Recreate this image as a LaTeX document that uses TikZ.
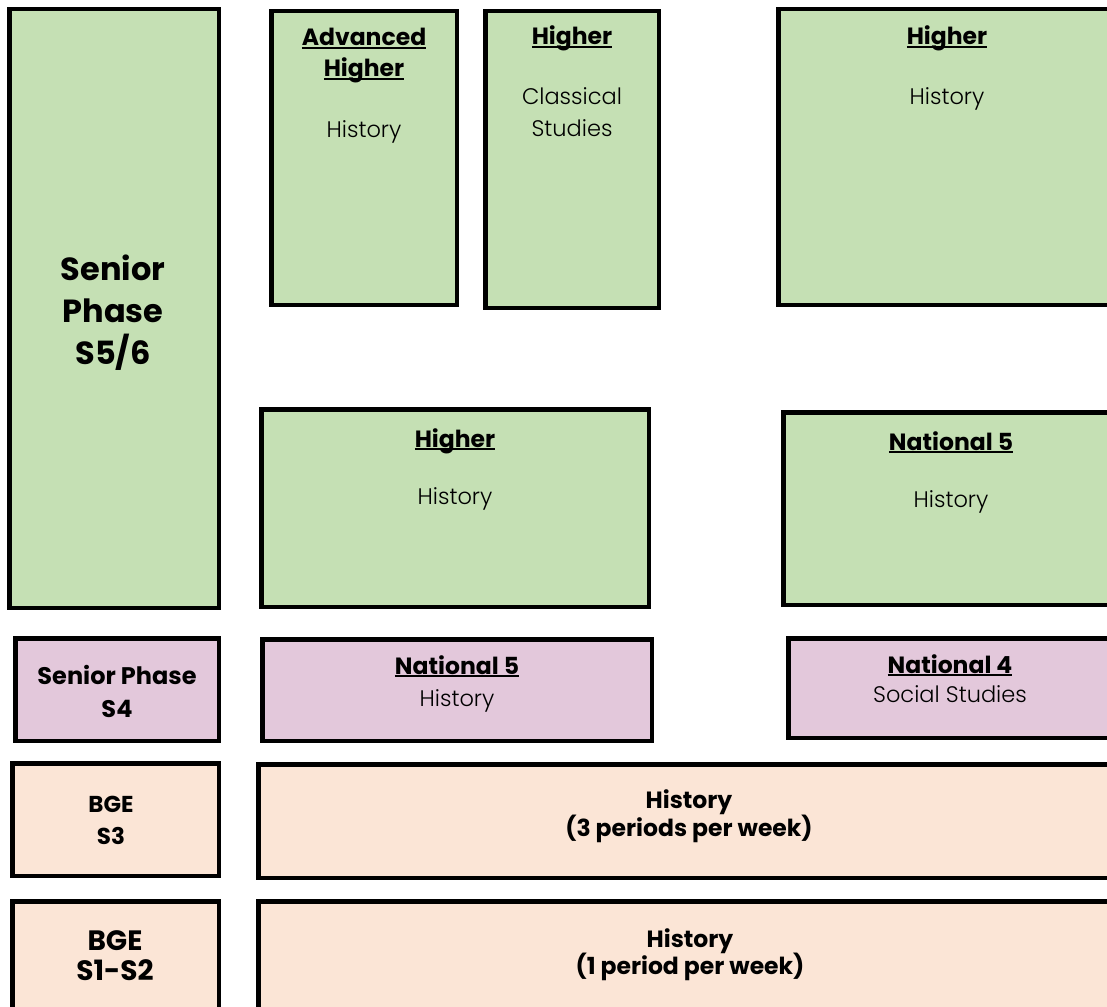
\documentclass[tikz,border=0pt]{standalone}
\usepackage{fontspec}
\setmainfont{Poppins}
\newfontfamily\lightfont{Poppins Light}
\definecolor{phasegreen}{HTML}{C5E0B4}
\definecolor{phasepurple}{HTML}{E3C8DB}
\definecolor{phasepeach}{HTML}{FBE5D6}
\newcommand\ulhead[1]{\setbox0\hbox{#1}\rlap{\rule[-3pt]{\wd0}{1.8pt}}\box0}
\tikzset{
    panel/.style = {
        draw = black,
        line width = 4.5pt,
        rectangle,
        inner sep = 0pt,
        },
    green panel/.style = {
        panel,
        fill = phasegreen,
        },
    purple panel/.style = {
        panel,
        fill = phasepurple,
        },
    peach panel/.style = {
        panel,
        fill = phasepeach,
        },
    txt/.style = {
        anchor = base,
        inner sep = 0pt,
        font = \fontsize{22.5}{30}\selectfont\lightfont,
        },
    head/.style = {
        txt,
        font = \fontsize{23.5}{30}\selectfont\bfseries,
        },
}

\begin{document}
\begin{tikzpicture}[x=1pt, y=-1pt]
    \useasboundingbox (0,0) rectangle (1107,1006);
    \clip (0,0) rectangle (1107,1006);

    % S5/6
    \node[green panel, minimum width=209.5pt, minimum height=598.5pt] (s56) at (114,308.5) {};
    \node[green panel, minimum width=185.5pt, minimum height=293.5pt] (adv) at (364,158) {};
    \node[green panel, minimum width=173.5pt, minimum height=296.5pt] (cls) at (572,159.5) {};
    \node[green panel, minimum width=337.5pt, minimum height=295.5pt] (highR) at (947,157) {};
    \node[green panel, minimum width=387.5pt, minimum height=197.5pt] (highM) at (455,508) {};
    \node[green panel, minimum width=335.5pt, minimum height=192.5pt] (natG) at (951,508.5) {};

    \node[head, font=\fontsize{32}{40}\selectfont\bfseries] (s56a) at (113,280) {Senior};
    \node[head, font=\fontsize{32}{40}\selectfont\bfseries] (s56b) at (113,322) {Phase};
    \node[head, font=\fontsize{32}{40}\selectfont\bfseries] (s56c) at (113,364) {S5/6};

    \node[head] (advT1) at (364,46) {\ulhead{Advanced}};
    \node[head] (advT2) at (364,77) {\ulhead{Higher}};
    \node[txt] (advS) at (364,137) {History};

    \node[head] (clsT) at (572,45) {\ulhead{Higher}};
    \node[txt] (clsS1) at (572,105) {Classical};
    \node[txt] (clsS2) at (572,136) {Studies};

    \node[head] (highRT) at (947,45) {\ulhead{Higher}};
    \node[txt] (highRS) at (947,105) {History};

    \node[head] (highMT) at (455,447) {\ulhead{Higher}};
    \node[txt] (highMS) at (455,504) {History};

    \node[head] (natGT) at (951,450) {\ulhead{National 5}};
    \node[txt] (natGS) at (951,507) {History};

    % S4
    \node[purple panel, minimum width=203.5pt, minimum height=102.5pt] (s4) at (117,689.5) {};
    \node[purple panel, minimum width=389.5pt, minimum height=101.5pt] (natP) at (457,690) {};
    \node[purple panel, minimum width=323.5pt, minimum height=99.5pt] (nat4) at (950,688) {};

    \node[head, font=\fontsize{24}{30}\selectfont\bfseries] (s4a) at (117,684) {Senior Phase};
    \node[head, font=\fontsize{24}{30}\selectfont\bfseries] (s4b) at (117,717) {S4};

    \node[head] (natPT) at (457,674) {\ulhead{National 5}};
    \node[txt] (natPS) at (457,706) {History};

    \node[head] (nat4T) at (950,673) {\ulhead{National 4}};
    \node[txt] (nat4S) at (950,702) {Social Studies};

    % BGE
    \node[peach panel, minimum width=206.5pt, minimum height=112.5pt] (bgeA) at (115.5,819.5) {};
    \node[peach panel, minimum width=861.5pt, minimum height=113.5pt] (histA) at (689,821) {};
    \node[peach panel, minimum width=206.5pt, minimum height=116.5pt] (bgeB) at (115.5,959.5) {};
    \node[peach panel, minimum width=863.5pt, minimum height=116.5pt] (histB) at (690,959.5) {};

    \node[head, font=\fontsize{23}{30}\selectfont\bfseries] (bgeA1) at (111,812) {BGE};
    \node[head, font=\fontsize{23}{30}\selectfont\bfseries] (bgeA2) at (111,844) {S3};
    \node[head] (histA1) at (689,808) {History};
    \node[head] (histA2) at (689,836) {(3 periods per week)};

    \node[head, font=\fontsize{28}{36}\selectfont\bfseries] (bgeB1) at (115,950) {BGE};
    \node[head, font=\fontsize{28}{36}\selectfont\bfseries] (bgeB2) at (115,980) {S1-S2};
    \node[head] (histB1) at (690,947) {History};
    \node[head] (histB2) at (690,974) {(1 period per week)};
\end{tikzpicture}
\end{document}
